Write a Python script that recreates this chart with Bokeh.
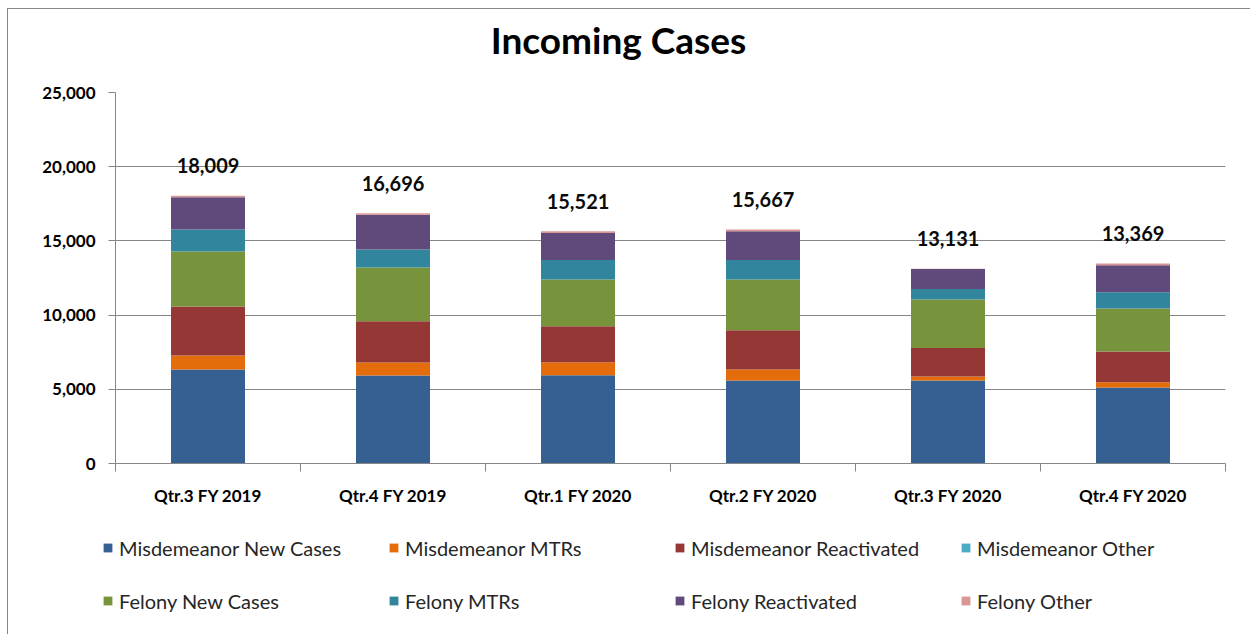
import numpy as np
from bokeh.plotting import figure
from bokeh.layouts import column
from bokeh.models import (Range1d, FixedTicker, NumeralTickFormatter, Legend, LegendItem,
                          ColumnDataSource, LabelSet, Label)
from bokeh.core.properties import value
from bokeh.embed import file_html
from bokeh.resources import INLINE

# ---- data ----
title_text = "Incoming Cases"
quarters = ["Qtr.3 FY 2019", "Qtr.4 FY 2019", "Qtr.1 FY 2020",
            "Qtr.2 FY 2020", "Qtr.3 FY 2020", "Qtr.4 FY 2020"]
series_names = ["Misdemeanor New Cases", "Misdemeanor MTRs", "Misdemeanor Reactivated",
                "Misdemeanor Other", "Felony New Cases", "Felony MTRs",
                "Felony Reactivated", "Felony Other"]
mis_new = [6330, 5930, 5950, 5590, 5590, 5120]
mis_mtr = [945, 875, 875, 740, 270, 355]
mis_react = [3300, 2785, 2425, 2650, 1925, 2070]
mis_other = [0, 0, 0, 0, 0, 0]
fel_new = [3705, 3620, 3145, 3415, 3260, 2900]
fel_mtr = [1480, 1210, 1320, 1320, 715, 1100]
fel_react = [2180, 2340, 1820, 1935, 1345, 1820]
fel_other = [100, 100, 115, 115, 20, 115]
totals = [18009, 16696, 15521, 15667, 13131, 13369]
y_ticks = [0, 5000, 10000, 15000, 20000, 25000]

colors = ["#376092", "#E46C0A", "#953735", "#4BACC6",
          "#77933C", "#31859C", "#604A7B", "#D99694"]

FONT = "Lato"
W = 1242

n = len(quarters)
xs = list(np.arange(n) + 0.5)
keys = ["s%d" % i for i in range(8)]
values = [mis_new, mis_mtr, mis_react, mis_other, fel_new, fel_mtr, fel_react, fel_other]
data = {"x": xs}
for k, v in zip(keys, values):
    data[k] = v
source = ColumnDataSource(data)


def blank_figure(h):
    f = figure(width=W, height=h, output_backend="svg", toolbar_location=None,
               x_range=Range1d(0, 1), y_range=Range1d(0, 1),
               x_axis_type=None, y_axis_type=None,
               min_border_left=0, min_border_right=0, min_border_top=0,
               min_border_bottom=0)
    f.frame_align = False
    f.outline_line_color = None
    f.xgrid.grid_line_color = None
    f.ygrid.grid_line_color = None
    f.background_fill_color = "white"
    f.border_fill_color = "white"
    return f


# ---- title strip ----
p0 = blank_figure(63)
p0.add_layout(Label(x=610, y=33, x_units="screen", y_units="screen", text=title_text,
                    text_align="center", text_baseline="middle",
                    text_font=FONT, text_font_size="37px", text_font_style="bold",
                    text_color="#000000"))

# ---- main chart ----
p = figure(width=W, height=437, output_backend="svg", toolbar_location=None,
           x_range=Range1d(0, n), y_range=Range1d(0, 25000),
           min_border_left=107, min_border_right=25, min_border_top=20,
           min_border_bottom=46)
p.outline_line_color = None
p.background_fill_color = "white"
p.border_fill_color = "white"

renderers = p.vbar_stack(keys, x="x", width=0.4, source=source, color=colors,
                         line_color=None)

lab_src = ColumnDataSource(dict(x=xs,
                                y=[sum(v[i] for v in values) for i in range(n)],
                                t=["{:,}".format(t) for t in totals]))
p.add_layout(LabelSet(x="x", y="y", text="t", source=lab_src, y_offset=30,
                      text_align="center", text_baseline="middle",
                      text_font=value(FONT), text_font_size=value("20px"),
                      text_font_style="bold", text_color="#0a0a0a"))

# y axis
p.yaxis.ticker = FixedTicker(ticks=y_ticks)
p.yaxis.formatter = NumeralTickFormatter(format="0,0")
p.yaxis.major_label_text_font = FONT
p.yaxis.major_label_text_font_size = "17px"
p.yaxis.major_label_text_font_style = "bold"
p.yaxis.major_label_text_color = "#000000"
p.yaxis.major_tick_in = 0
p.yaxis.major_tick_out = 7
p.yaxis.minor_tick_line_color = None
p.yaxis.axis_line_color = "#868686"
p.yaxis.major_tick_line_color = "#868686"
p.yaxis.major_label_standoff = 13

# x axis
p.xaxis.ticker = FixedTicker(ticks=xs, minor_ticks=list(range(n + 1)))
p.xaxis.major_label_overrides = {x: q for x, q in zip(xs, quarters)}
p.xaxis.major_label_text_font = FONT
p.xaxis.major_label_text_font_size = "17px"
p.xaxis.major_label_text_font_style = "bold"
p.xaxis.major_label_text_color = "#000000"
p.xaxis.major_tick_in = 0
p.xaxis.major_tick_out = 0
p.xaxis.minor_tick_in = 0
p.xaxis.minor_tick_out = 8
p.xaxis.minor_tick_line_color = "#868686"
p.xaxis.axis_line_color = "#868686"
p.xaxis.major_label_standoff = 13

p.xgrid.grid_line_color = None
p.ygrid.grid_line_color = "#868686"
p.ygrid.grid_line_width = 1

# ---- legend strip ----
p2 = blank_figure(125)
proxies = p2.vbar_stack(keys, x="x", width=0.4, source=source, color=colors,
                        line_color=None)
for r in proxies:
    r.visible = False

row_y = [74, 21]
for row in range(2):
    items = [LegendItem(label=series_names[row * 4 + c], renderers=[proxies[row * 4 + c]])
             for c in range(4)]
    lg = Legend(items=items, location=(94, row_y[row]), orientation="horizontal",
                glyph_width=11, glyph_height=11, label_standoff=6,
                label_height=25, label_width=249, spacing=20, padding=0, margin=0,
                border_line_color=None, background_fill_alpha=0,
                label_text_font=FONT, label_text_font_size="20px",
                label_text_color="#262626", click_policy="none")
    p2.add_layout(lg, "center")

layout = column(p0, p, p2, spacing=0)
layout.styles = {"margin-left": "7px", "margin-top": "8px",
                 "border-left": "1px solid #878787", "border-top": "1px solid #878787"}

open("out.html", "w").write(file_html(layout, INLINE))
